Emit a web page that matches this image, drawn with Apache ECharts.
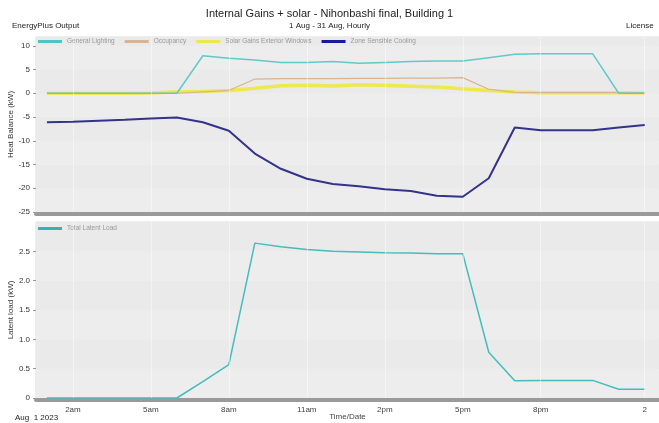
<!DOCTYPE html>
<html><head><meta charset="utf-8">
<script src="https://cdn.jsdelivr.net/npm/echarts@6/dist/echarts.min.js"></script>
<style>html,body{margin:0;padding:0;background:#fff}#c{width:659px;height:423px}</style>
</head><body><div id="c"></div>
<script>
const hours = [1,2,3,4,5,6,7,8,9,10,11,12,13,14,15,16,17,18,19,20,21,22,23,24];
const tickHours = [2,5,8,11,14,17,20,24];
const tickLabels = ['2am','5am','8am','11am','2pm','5pm','8pm','2'];
const generalLighting = [0,0,0,0,0,0,7.9,7.4,7.0,6.5,6.5,6.7,6.3,6.5,6.7,6.8,6.8,7.5,8.2,8.3,8.3,8.3,0,0];
const occupancy = [0,0,0,0,0,0,0.3,0.6,3.0,3.1,3.1,3.1,3.15,3.15,3.2,3.2,3.3,0.85,0.2,0.15,0.15,0.15,0.15,0.1];
const solarGains = [0,0,0,0,0.05,0.3,0.35,0.6,1.05,1.6,1.7,1.55,1.8,1.7,1.5,1.3,0.95,0.6,0.25,0.1,0.1,0.1,0.1,0.05];
const zoneCooling = [-6.1,-6.0,-5.8,-5.6,-5.3,-5.1,-6.1,-7.9,-12.7,-15.9,-18.0,-19.1,-19.6,-20.2,-20.6,-21.6,-21.8,-17.9,-7.2,-7.8,-7.8,-7.8,-7.2,-6.7];
const latentLoad = [0,0,0,0,0,0,0.28,0.57,2.64,2.58,2.53,2.50,2.49,2.475,2.47,2.46,2.46,0.78,0.295,0.3,0.3,0.3,0.15,0.15];

const pairs = arr => hours.map((h,i)=>[h,arr[i]]);
const font = 'Liberation Sans, Arial, sans-serif';
const vlines = tickHours.map(h=>({xAxis:h}));
const vMark = {silent:true, symbol:'none', label:{show:false}, lineStyle:{color:'rgba(255,255,255,0.45)', width:1, type:'solid'}, data:vlines};

function xAx(gi, showLabels){
  return {
    type:'value', gridIndex:gi, min:0.58, max:24.55, offset:2,
    axisLine:{show:true, onZero:false, lineStyle:{color:'#9a9a9a', width:4}},
    axisTick:{show:false}, splitLine:{show:false},
    axisLabel:{show:showLabels, customValues:tickHours, margin:6, color:'#444', fontSize:8, fontFamily:font,
      formatter:v=>{const i=tickHours.indexOf(v); return i>=0?tickLabels[i]:'';}},
    name: showLabels?'Time/Date':'', nameLocation:'middle', nameGap:13, nameMoveOverlap:false,
    nameTextStyle:{color:'#444', fontSize:8, fontFamily:font}
  };
}

const chart = echarts.init(document.getElementById('c'), null, {renderer:'canvas'});
chart.setOption({
  animation:false,
  backgroundColor:'#ffffff',
  title:[
    {text:'Internal Gains + solar - Nihonbashi final, Building 1', left:'center', top:3,
     textStyle:{fontSize:11, fontWeight:'normal', color:'#222', fontFamily:font}},
    {text:'1 Aug - 31 Aug, Hourly', left:'center', top:17, textStyle:{fontSize:8, fontWeight:'normal', color:'#222', fontFamily:font}},
    {text:'EnergyPlus Output', left:7, top:17, textStyle:{fontSize:8, fontWeight:'normal', color:'#222', fontFamily:font}},
    {text:'License', left:621, top:17, textStyle:{fontSize:8, fontWeight:'normal', color:'#222', fontFamily:font}}
  ],
  graphic:[{type:'text', left:15, top:414, style:{text:'Aug  1 2023', fontSize:8, fill:'#222', fontFamily:font}}],
  legend:[
    {left:38, top:38, padding:0, itemWidth:24, itemHeight:3, itemGap:10, icon:'rect',
     textStyle:{fontSize:6.5, color:'#999', fontFamily:font},
     data:['General Lighting','Occupancy','Solar Gains Exterior Windows','Zone Sensible Cooling']},
    {left:38, top:225, padding:0, itemWidth:24, itemHeight:3, icon:'rect',
     textStyle:{fontSize:6.5, color:'#999', fontFamily:font},
     data:['Total Latent Load']}
  ],
  grid:[
    {left:36, right:0, top:37, height:175, outerBoundsMode:'none', containLabel:false, show:true, backgroundColor:'#eeeeee', borderColor:'#dddddd', borderWidth:1},
    {left:36, right:0, top:222, height:176, outerBoundsMode:'none', containLabel:false, show:true, backgroundColor:'#eeeeee', borderColor:'#dddddd', borderWidth:1}
  ],
  xAxis:[xAx(0,false), xAx(1,true)],
  yAxis:[
    {type:'value', gridIndex:0, min:-25, max:11.85, interval:5,
     axisLine:{show:false}, axisTick:{show:true, length:3, lineStyle:{color:'#999'}},
     splitLine:{show:false},
     splitArea:{show:true, areaStyle:{color:['#ededed','#eaeaea']}},
     axisLabel:{showMaxLabel:false, color:'#333', fontSize:8, margin:6, fontFamily:font},
     name:'Heat Balance (kW)', nameLocation:'middle', nameGap:21, nameMoveOverlap:false,
     nameTextStyle:{color:'#333', fontSize:8, fontFamily:font}},
    {type:'value', gridIndex:1, min:0, max:3, interval:0.5,
     axisLine:{show:false}, axisTick:{show:true, length:3, lineStyle:{color:'#999'}},
     splitLine:{show:false},
     splitArea:{show:true, areaStyle:{color:['#ededed','#eaeaea']}},
     axisLabel:{showMaxLabel:false, color:'#333', fontSize:8, margin:6, fontFamily:font,
       formatter:v=>v===0?'0':v.toFixed(1)},
     name:'Latent load (kW)', nameLocation:'middle', nameGap:21, nameMoveOverlap:false,
     nameTextStyle:{color:'#333', fontSize:8, fontFamily:font}}
  ],
  series:[
    {name:'Solar Gains Exterior Windows', type:'line', xAxisIndex:0, yAxisIndex:0, data:pairs(solarGains),
     symbol:'none', color:'#eee84a', lineStyle:{width:3.5, color:'#ede94e'}, z:2, markLine:vMark},
    {name:'Occupancy', type:'line', xAxisIndex:0, yAxisIndex:0, data:pairs(occupancy),
     symbol:'none', color:'#d8b492', lineStyle:{width:1.2, color:'#d8b492'}, z:3},
    {name:'General Lighting', type:'line', xAxisIndex:0, yAxisIndex:0, data:pairs(generalLighting),
     symbol:'none', color:'#4fc4c4', lineStyle:{width:1.5, color:'#62c9c9'}, z:4},
    {name:'Zone Sensible Cooling', type:'line', xAxisIndex:0, yAxisIndex:0, data:pairs(zoneCooling),
     symbol:'none', color:'#1a1a99', lineStyle:{width:2, color:'#33338a'}, z:5},
    {name:'Total Latent Load', type:'line', xAxisIndex:1, yAxisIndex:1, data:pairs(latentLoad),
     symbol:'none', color:'#33b3b3', lineStyle:{width:1.5, color:'#45bcbc'}, z:4, markLine:vMark}
  ]
});
</script></body></html>
